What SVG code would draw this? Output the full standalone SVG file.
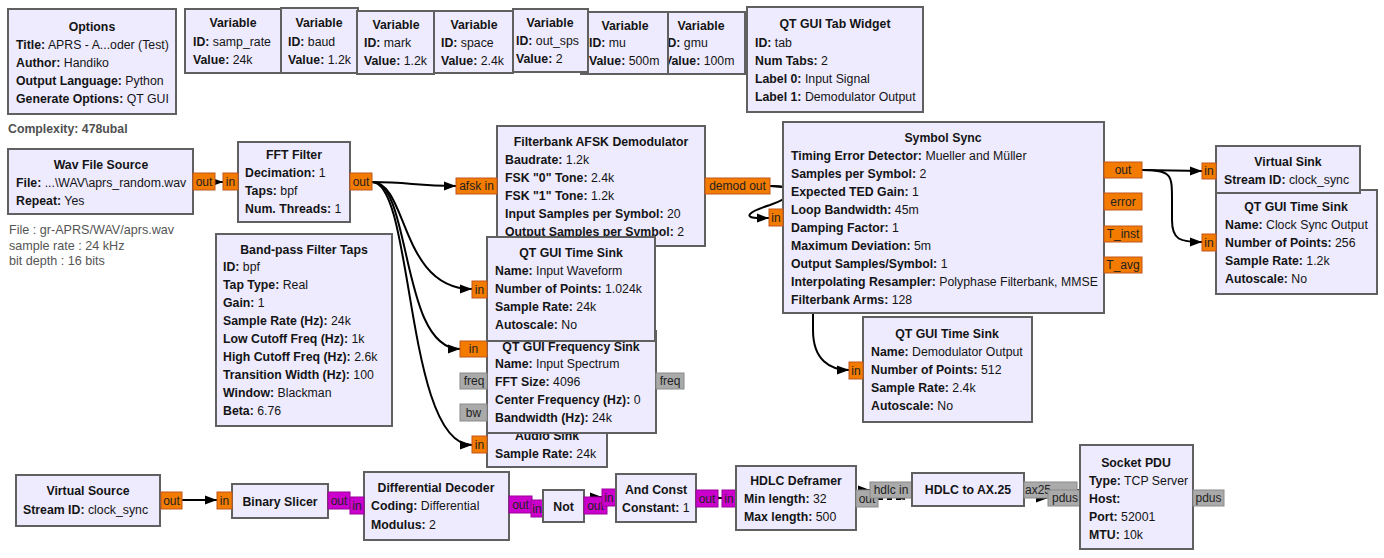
<svg xmlns="http://www.w3.org/2000/svg" width="1384" height="558" viewBox="0 0 1384 558">
<defs>
<style>
.n{fill:#EEEBFF;stroke:#606060;stroke-width:2}
.t{font-family:"Liberation Sans",Arial,sans-serif;font-size:12.3px;fill:#141414}
.b{font-weight:bold}
.c{text-anchor:middle}
.cm{font-family:"Liberation Sans",Arial,sans-serif;font-size:12.6px;fill:#555}
.po{fill:#F37B00;stroke:#C0561C;stroke-width:1}
.pm{fill:#CC00CC;stroke:#990099;stroke-width:1}
.pg{fill:#AAAAAA;stroke:#8A8A8A;stroke-width:1}
.pt{font-family:"Liberation Sans",Arial,sans-serif;font-size:12px;fill:#222;text-anchor:middle}
.w{fill:none;stroke:#000;stroke-width:2}
.d{fill:none;stroke:#000;stroke-width:2;stroke-dasharray:5,4}
</style>
<marker id="arr" markerUnits="userSpaceOnUse" markerWidth="12" markerHeight="10" refX="12" refY="5" orient="auto">
<path d="M0,0.5 L12,5 L0,9.5 z" fill="#000"/>
</marker>
</defs>
<rect width="1384" height="558" fill="#fff"/>

<g id="connectors">
<path class="w" d="M215,182 L223,182" marker-end="url(#arr)"/>
<path class="w" d="M372,182 C410,182 415,186 456,186" marker-end="url(#arr)"/>
<path class="w" d="M372,182 C408,182 400,289 472,289" marker-end="url(#arr)"/>
<path class="w" d="M372,182 C412,182 400,349 460,349" marker-end="url(#arr)"/>
<path class="w" d="M372,182 C414,182 405,445 472,445" marker-end="url(#arr)"/>
<path class="w" d="M770,186 C805,186 790,198 770,205 C748,212 742,218 760,218 L769,218" marker-end="url(#arr)"/>
<path class="w" d="M770,186 C800,186 813,200 813,230 L813,330 C813,360 830,370 849,370" marker-end="url(#arr)"/>
<path class="w" d="M1142,170 C1170,170 1175,171 1202,171" marker-end="url(#arr)"/>
<path class="w" d="M1142,170 C1172,170 1172,175 1172,200 L1172,220 C1172,240 1180,242 1202,242" marker-end="url(#arr)"/>
<path class="w" d="M182,500 L217,500" marker-end="url(#arr)"/>
<path class="w" d="M350,500 L350,505"/>
<path class="w" d="M532,504 L532,508"/>
<path class="w" d="M607,505 L612,505 L592,497 L602,497" marker-end="url(#arr)"/>
<path class="w" d="M718,498 L722,498" marker-end="url(#arr)"/>
<path class="d" d="M878,499 L905,499 L860,490 L870,490" marker-end="url(#arr)"/>
<path class="d" d="M1077,490 L1087,490 L1038,498 L1048,498" marker-end="url(#arr)"/>
</g>

<g id="options">
<rect class="n" x="8" y="9" width="168" height="105"/>
<text class="t b c" x="92" y="31">Options</text>
<text class="t" x="16" y="49"><tspan class="b">Title:</tspan> APRS - A...oder (Test)</text>
<text class="t" x="16" y="67"><tspan class="b">Author:</tspan> Handiko</text>
<text class="t" x="16" y="85"><tspan class="b">Output Language:</tspan> Python</text>
<text class="t" x="16" y="103"><tspan class="b">Generate Options:</tspan> QT GUI</text>
</g>
<text id="complexity" x="8" y="133" font-family="Liberation Sans, Arial, sans-serif" font-size="12.3" font-weight="bold" fill="#505050">Complexity: 478ubal</text>

<g id="var_samp_rate">
<rect class="n" x="185" y="9" width="96" height="64"/>
<text class="t b c" x="233" y="27">Variable</text>
<text class="t" x="193" y="46"><tspan class="b">ID:</tspan> samp_rate</text>
<text class="t" x="193" y="64"><tspan class="b">Value:</tspan> 24k</text>
</g>
<g id="var_baud">
<rect class="n" x="281" y="8" width="77" height="65"/>
<text class="t b c" x="319" y="27">Variable</text>
<text class="t" x="288" y="46"><tspan class="b">ID:</tspan> baud</text>
<text class="t" x="288" y="64"><tspan class="b">Value:</tspan> 1.2k</text>
</g>
<g id="var_mark">
<rect class="n" x="357" y="11" width="77" height="63"/>
<text class="t b c" x="396" y="29">Variable</text>
<text class="t" x="364" y="47"><tspan class="b">ID:</tspan> mark</text>
<text class="t" x="364" y="65"><tspan class="b">Value:</tspan> 1.2k</text>
</g>
<g id="var_space">
<rect class="n" x="434" y="11" width="79" height="62"/>
<text class="t b c" x="474" y="29">Variable</text>
<text class="t" x="441" y="47"><tspan class="b">ID:</tspan> space</text>
<text class="t" x="441" y="65"><tspan class="b">Value:</tspan> 2.4k</text>
</g>
<g id="var_gmu">
<rect class="n" x="657" y="12" width="88" height="62"/>
<text class="t b c" x="701" y="30">Variable</text>
<text class="t" x="664" y="47"><tspan class="b">ID:</tspan> gmu</text>
<text class="t" x="664" y="65"><tspan class="b">Value:</tspan> 100m</text>
</g>
<g id="var_mu">
<rect class="n" x="581" y="12" width="87" height="62"/>
<text class="t b c" x="625" y="30">Variable</text>
<text class="t" x="589" y="47"><tspan class="b">ID:</tspan> mu</text>
<text class="t" x="589" y="65"><tspan class="b">Value:</tspan> 500m</text>
</g>
<g id="var_out_sps">
<rect class="n" x="513" y="9" width="75" height="63"/>
<text class="t b c" x="550" y="27">Variable</text>
<text class="t" x="516" y="45"><tspan class="b">ID:</tspan> out_sps</text>
<text class="t" x="516" y="63"><tspan class="b">Value:</tspan> 2</text>
</g>
<g id="tab_widget">
<rect class="n" x="747" y="7" width="176" height="105"/>
<text class="t b c" x="835" y="28">QT GUI Tab Widget</text>
<text class="t" x="755" y="47"><tspan class="b">ID:</tspan> tab</text>
<text class="t" x="755" y="65"><tspan class="b">Num Tabs:</tspan> 2</text>
<text class="t" x="755" y="83"><tspan class="b">Label 0:</tspan> Input Signal</text>
<text class="t" x="755" y="101"><tspan class="b">Label 1:</tspan> Demodulator Output</text>
</g>

<g id="wav_source">
<rect class="n" x="8" y="149" width="185" height="65"/>
<text class="t b c" x="101" y="169">Wav File Source</text>
<text class="t" x="16" y="187"><tspan class="b">File:</tspan> ...\WAV\aprs_random.wav</text>
<text class="t" x="16" y="205"><tspan class="b">Repeat:</tspan> Yes</text>
<rect class="po" x="193" y="173" width="22" height="17"/>
<text class="pt" x="204" y="186">out</text>
</g>
<g id="wav_comment">
<text class="cm" x="9" y="234">File : gr-APRS/WAV/aprs.wav</text>
<text class="cm" x="9" y="250">sample rate : 24 kHz</text>
<text class="cm" x="9" y="265">bit depth : 16 bits</text>
</g>

<g id="fft_filter">
<rect class="n" x="238" y="142" width="112" height="80"/>
<text class="t b c" x="294" y="159">FFT Filter</text>
<text class="t" x="245" y="177"><tspan class="b">Decimation:</tspan> 1</text>
<text class="t" x="245" y="195"><tspan class="b">Taps:</tspan> bpf</text>
<text class="t" x="245" y="213"><tspan class="b">Num. Threads:</tspan> 1</text>
<rect class="po" x="223" y="173" width="15" height="17"/>
<text class="pt" x="230.5" y="186">in</text>
<rect class="po" x="350" y="173" width="22" height="17"/>
<text class="pt" x="361" y="186">out</text>
</g>

<g id="bpf_taps">
<rect class="n" x="216" y="234" width="176" height="192"/>
<text class="t b c" x="304" y="254">Band-pass Filter Taps</text>
<text class="t" x="223" y="271"><tspan class="b">ID:</tspan> bpf</text>
<text class="t" x="223" y="289"><tspan class="b">Tap Type:</tspan> Real</text>
<text class="t" x="223" y="307"><tspan class="b">Gain:</tspan> 1</text>
<text class="t" x="223" y="325"><tspan class="b">Sample Rate (Hz):</tspan> 24k</text>
<text class="t" x="223" y="343"><tspan class="b">Low Cutoff Freq (Hz):</tspan> 1k</text>
<text class="t" x="223" y="361"><tspan class="b">High Cutoff Freq (Hz):</tspan> 2.6k</text>
<text class="t" x="223" y="379"><tspan class="b">Transition Width (Hz):</tspan> 100</text>
<text class="t" x="223" y="397"><tspan class="b">Window:</tspan> Blackman</text>
<text class="t" x="223" y="415"><tspan class="b">Beta:</tspan> 6.76</text>
</g>

<g id="afsk_demod">
<rect class="n" x="497" y="126" width="208" height="120"/>
<text class="t b c" x="601" y="146">Filterbank AFSK Demodulator</text>
<text class="t" x="505" y="164"><tspan class="b">Baudrate:</tspan> 1.2k</text>
<text class="t" x="505" y="182"><tspan class="b">FSK "0" Tone:</tspan> 2.4k</text>
<text class="t" x="505" y="200"><tspan class="b">FSK "1" Tone:</tspan> 1.2k</text>
<text class="t" x="505" y="218"><tspan class="b">Input Samples per Symbol:</tspan> 20</text>
<text class="t" x="505" y="236"><tspan class="b">Output Samples per Symbol:</tspan> 2</text>
<rect class="po" x="456" y="178" width="41" height="16"/>
<text class="pt" x="476.5" y="190">afsk in</text>
<rect class="po" x="705" y="178" width="65" height="16"/>
<text class="pt" x="737.5" y="190">demod out</text>
</g>

<g id="audio_sink">
<rect class="n" x="487" y="421" width="120" height="46"/>
<text class="t b c" x="547" y="440">Audio Sink</text>
<text class="t" x="495" y="458"><tspan class="b">Sample Rate:</tspan> 24k</text>
<rect class="po" x="472" y="436" width="15" height="17"/>
<text class="pt" x="479.5" y="449">in</text>
</g>

<g id="freq_sink">
<rect class="n" x="487" y="331" width="169" height="102"/>
<text class="t b c" x="571" y="351">QT GUI Frequency Sink</text>
<text class="t" x="495" y="368"><tspan class="b">Name:</tspan> Input Spectrum</text>
<text class="t" x="495" y="386"><tspan class="b">FFT Size:</tspan> 4096</text>
<text class="t" x="495" y="404"><tspan class="b">Center Frequency (Hz):</tspan> 0</text>
<text class="t" x="495" y="422"><tspan class="b">Bandwidth (Hz):</tspan> 24k</text>
<rect class="po" x="460" y="341" width="27" height="16"/>
<text class="pt" x="473.5" y="353">in</text>
<rect class="pg" x="460" y="373" width="27" height="16"/>
<text class="pt" x="474" y="385">freq</text>
<rect class="pg" x="460" y="404" width="27" height="17"/>
<text class="pt" x="473.5" y="417">bw</text>
<rect class="pg" x="656" y="373" width="28" height="16"/>
<text class="pt" x="670" y="385">freq</text>
</g>

<g id="time_sink_input">
<rect class="n" x="487" y="237" width="168" height="104"/>
<text class="t b c" x="571" y="257">QT GUI Time Sink</text>
<text class="t" x="495" y="275"><tspan class="b">Name:</tspan> Input Waveform</text>
<text class="t" x="495" y="293"><tspan class="b">Number of Points:</tspan> 1.024k</text>
<text class="t" x="495" y="311"><tspan class="b">Sample Rate:</tspan> 24k</text>
<text class="t" x="495" y="329"><tspan class="b">Autoscale:</tspan> No</text>
<rect class="po" x="472" y="281" width="15" height="17"/>
<text class="pt" x="479.5" y="294">in</text>
</g>

<g id="symbol_sync">
<rect class="n" x="783" y="122" width="321" height="191"/>
<text class="t b c" x="943" y="142">Symbol Sync</text>
<text class="t" x="791" y="160"><tspan class="b">Timing Error Detector:</tspan> Mueller and Müller</text>
<text class="t" x="791" y="178"><tspan class="b">Samples per Symbol:</tspan> 2</text>
<text class="t" x="791" y="196"><tspan class="b">Expected TED Gain:</tspan> 1</text>
<text class="t" x="791" y="214"><tspan class="b">Loop Bandwidth:</tspan> 45m</text>
<text class="t" x="791" y="232"><tspan class="b">Damping Factor:</tspan> 1</text>
<text class="t" x="791" y="250"><tspan class="b">Maximum Deviation:</tspan> 5m</text>
<text class="t" x="791" y="268"><tspan class="b">Output Samples/Symbol:</tspan> 1</text>
<text class="t" x="791" y="286"><tspan class="b">Interpolating Resampler:</tspan> Polyphase Filterbank, MMSE</text>
<text class="t" x="791" y="304"><tspan class="b">Filterbank Arms:</tspan> 128</text>
<rect class="po" x="769" y="209" width="14" height="17"/>
<text class="pt" x="776" y="222">in</text>
<rect class="po" x="1104" y="162" width="38" height="16"/>
<text class="pt" x="1123" y="174">out</text>
<rect class="po" x="1104" y="193" width="38" height="17"/>
<text class="pt" x="1123" y="206">error</text>
<rect class="po" x="1104" y="226" width="38" height="16"/>
<text class="pt" x="1123" y="238">T_inst</text>
<rect class="po" x="1104" y="257" width="38" height="16"/>
<text class="pt" x="1123" y="269">T_avg</text>
</g>

<g id="time_sink_clock">
<rect class="n" x="1216" y="190" width="161" height="104"/>
<text class="t b c" x="1296" y="211">QT GUI Time Sink</text>
<text class="t" x="1225" y="229"><tspan class="b">Name:</tspan> Clock Sync Output</text>
<text class="t" x="1225" y="247"><tspan class="b">Number of Points:</tspan> 256</text>
<text class="t" x="1225" y="265"><tspan class="b">Sample Rate:</tspan> 1.2k</text>
<text class="t" x="1225" y="283"><tspan class="b">Autoscale:</tspan> No</text>
<rect class="po" x="1202" y="234" width="14" height="17"/>
<text class="pt" x="1209" y="247">in</text>
</g>

<g id="virtual_sink">
<rect class="n" x="1216" y="146" width="144" height="47"/>
<text class="t b c" x="1288" y="166">Virtual Sink</text>
<text class="t" x="1224" y="184"><tspan class="b">Stream ID:</tspan> clock_sync</text>
<rect class="po" x="1202" y="163" width="14" height="16"/>
<text class="pt" x="1209" y="175">in</text>
</g>

<g id="time_sink_demod">
<rect class="n" x="863" y="317" width="169" height="105"/>
<text class="t b c" x="947" y="338">QT GUI Time Sink</text>
<text class="t" x="871" y="356"><tspan class="b">Name:</tspan> Demodulator Output</text>
<text class="t" x="871" y="374"><tspan class="b">Number of Points:</tspan> 512</text>
<text class="t" x="871" y="392"><tspan class="b">Sample Rate:</tspan> 2.4k</text>
<text class="t" x="871" y="410"><tspan class="b">Autoscale:</tspan> No</text>
<rect class="po" x="849" y="362" width="14" height="17"/>
<text class="pt" x="856" y="375">in</text>
</g>

<g id="virtual_source">
<rect class="n" x="16" y="475" width="144" height="51"/>
<text class="t b c" x="88" y="495">Virtual Source</text>
<text class="t" x="23" y="514"><tspan class="b">Stream ID:</tspan> clock_sync</text>
<rect class="po" x="161" y="492" width="21" height="17"/>
<text class="pt" x="171.5" y="505">out</text>
</g>

<g id="binary_slicer">
<rect class="n" x="232" y="484" width="96" height="34"/>
<text class="t b c" x="280" y="506">Binary Slicer</text>
<rect class="po" x="217" y="492" width="15" height="17"/>
<text class="pt" x="224.5" y="505">in</text>
<rect class="pm" x="328" y="492" width="22" height="17"/>
<text class="pt" x="339" y="505">out</text>
</g>

<g id="diff_decoder">
<rect class="n" x="364" y="472" width="145" height="68"/>
<text class="t b c" x="436" y="492">Differential Decoder</text>
<text class="t" x="371" y="510"><tspan class="b">Coding:</tspan> Differential</text>
<text class="t" x="371" y="529"><tspan class="b">Modulus:</tspan> 2</text>
<rect class="pm" x="350" y="497" width="14" height="17"/>
<text class="pt" x="357" y="510">in</text>
<rect class="pm" x="509" y="496" width="23" height="17"/>
<text class="pt" x="520.5" y="509">out</text>
</g>

<g id="not">
<rect class="pm" x="531" y="500" width="12" height="17"/>
<text class="pt" x="537" y="513">in</text>
<rect class="n" x="543" y="490" width="41" height="32"/>
<text class="t b c" x="563.5" y="511">Not</text>
<rect class="pm" x="584" y="497" width="23" height="17"/>
<text class="pt" x="595.5" y="510">out</text>
</g>

<g id="and_const">
<rect class="pm" x="602" y="489" width="14" height="17"/>
<text class="pt" x="609" y="502">in</text>
<rect class="n" x="616" y="474" width="80" height="48"/>
<text class="t b c" x="656" y="494">And Const</text>
<text class="t" x="622" y="512"><tspan class="b">Constant:</tspan> 1</text>
<rect class="pm" x="696" y="490" width="22" height="17"/>
<text class="pt" x="707" y="503">out</text>
</g>

<g id="hdlc_deframer">
<rect class="pm" x="722" y="490" width="14" height="17"/>
<text class="pt" x="729" y="503">in</text>
<rect class="n" x="736" y="466" width="120" height="64"/>
<text class="t b c" x="796" y="485">HDLC Deframer</text>
<text class="t" x="744" y="503"><tspan class="b">Min length:</tspan> 32</text>
<text class="t" x="744" y="521"><tspan class="b">Max length:</tspan> 500</text>
<rect class="pg" x="856" y="490" width="22" height="17"/>
<text class="pt" x="867" y="503">out</text>
</g>

<g id="hdlc_to_ax25">
<rect class="pg" x="870" y="482" width="42" height="16"/>
<text class="pt" x="891" y="494">hdlc in</text>
<rect class="n" x="912" y="473" width="112" height="33"/>
<text class="t b c" x="968" y="494">HDLC to AX.25</text>
<rect class="pg" x="1024" y="482" width="53" height="16"/>
<text x="1025" y="494" font-family="Liberation Sans, Arial, sans-serif" font-size="12" fill="#222">ax25</text>
</g>

<g id="socket_pdu">
<rect class="pg" x="1048" y="490" width="32" height="16"/>
<text class="pt" x="1065" y="502">pdus</text>
<rect class="n" x="1080" y="445" width="113" height="104"/>
<text class="t b c" x="1136" y="467">Socket PDU</text>
<text class="t" x="1089" y="485"><tspan class="b">Type:</tspan> TCP Server</text>
<text class="t" x="1089" y="503"><tspan class="b">Host:</tspan></text>
<text class="t" x="1089" y="521"><tspan class="b">Port:</tspan> 52001</text>
<text class="t" x="1089" y="539"><tspan class="b">MTU:</tspan> 10k</text>
<rect class="pg" x="1193" y="490" width="31" height="16"/>
<text class="pt" x="1208.5" y="502">pdus</text>
</g>
</svg>
